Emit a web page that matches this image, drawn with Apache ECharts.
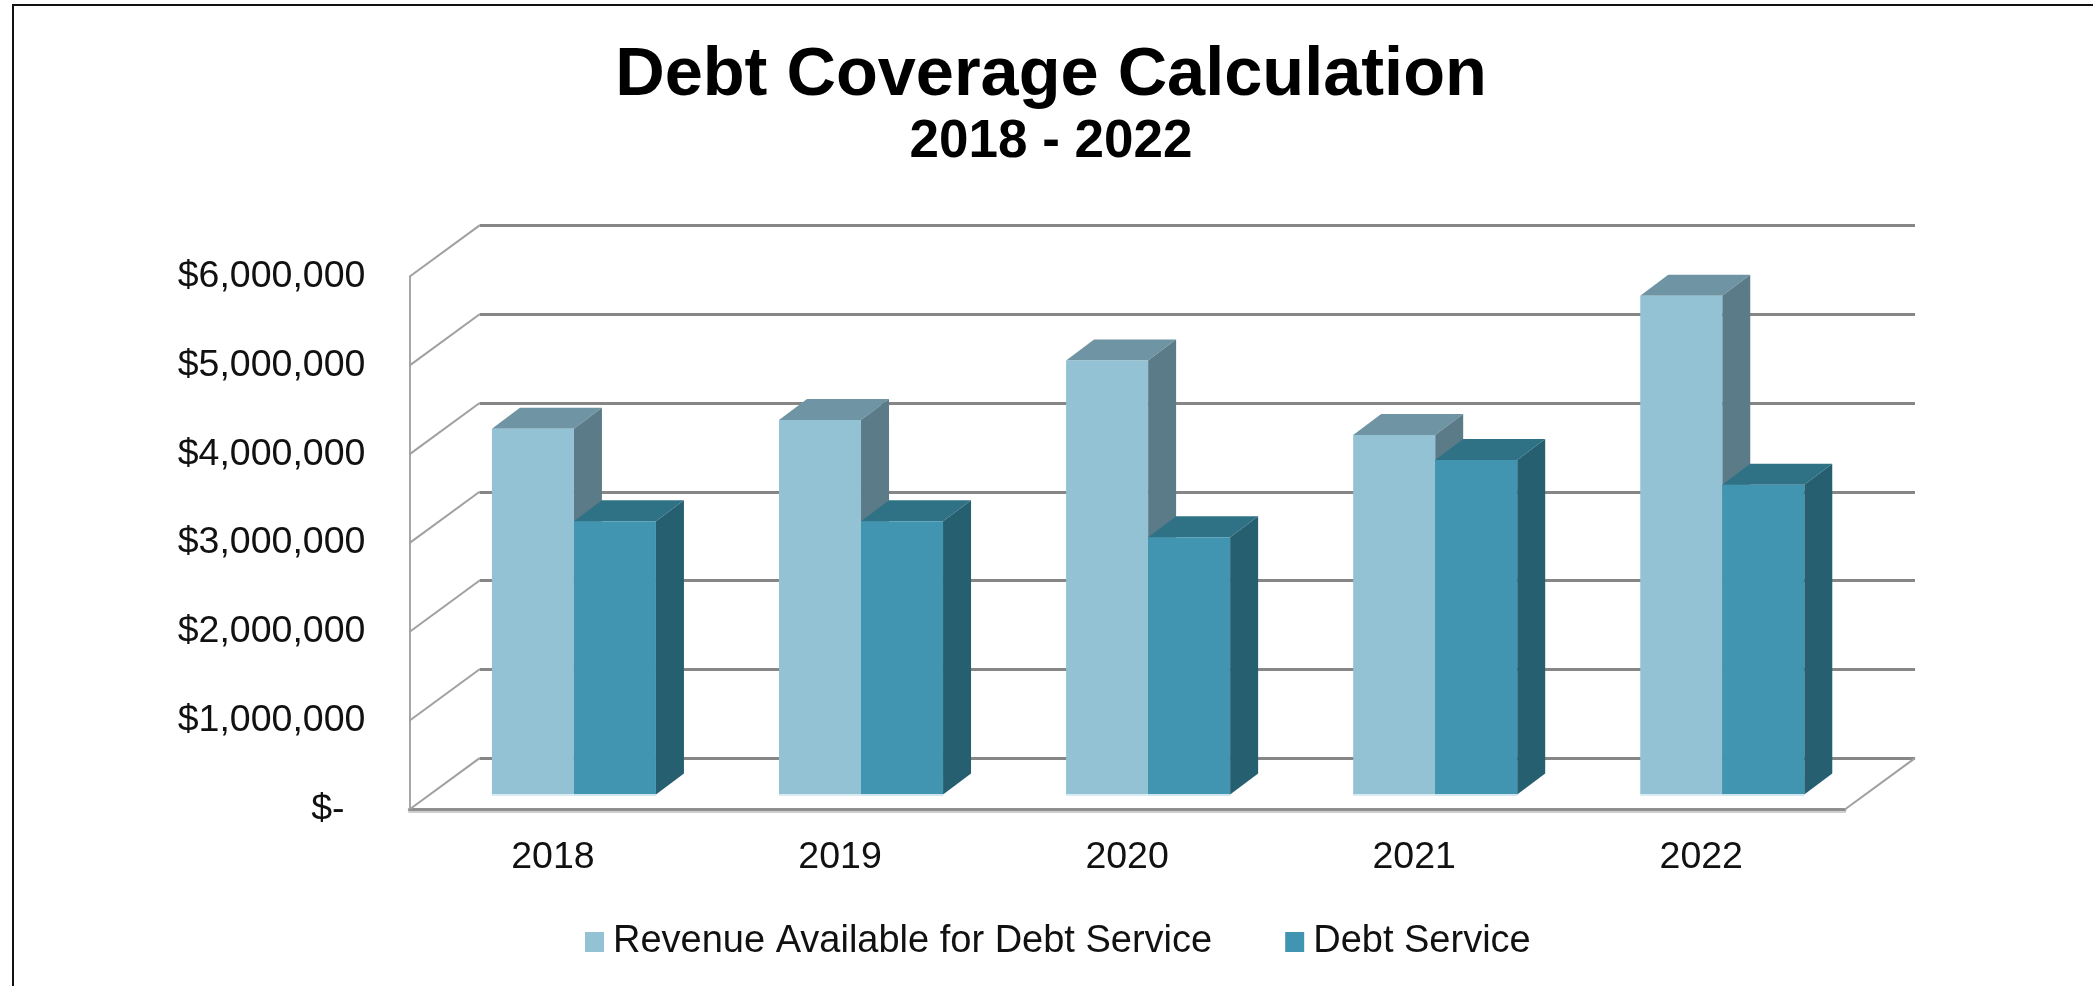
<!DOCTYPE html>
<html><head><meta charset="utf-8">
<script src="https://cdn.jsdelivr.net/npm/echarts@6/dist/echarts.min.js"></script>
<style>html,body{margin:0;padding:0;background:#fff}#c{width:2093px;height:986px}</style>
</head><body><div id="c"></div>
<script>
const categories = ['2018','2019','2020','2021','2022'];
const revenue = [4120000,4220000,4890000,4050000,5620000];
const debtService = [3080000,3080000,2900000,3770000,3490000];
const tickValues = [0,1000000,2000000,3000000,4000000,5000000,6000000];
const tickLabels = ['$-  ','$1,000,000','$2,000,000','$3,000,000','$4,000,000','$5,000,000','$6,000,000'];
const FONT = '"Liberation Sans", Arial, sans-serif';

const W = 1435.4, H = 532.7;
const front = {left:409.4, top:276.8, width:W, height:H};
const bars  = {left:430.4, top:261.9, width:W, height:H};
const back  = {left:479.6, top:225.4, width:W, height:H};
const DEPTH_X = 70.2, DEPTH_Y = 51.4;
const BAR_DX = 28, BAR_DY = 21;

function bar3d(side, cFront, cTop, cSide, cEdge) {
  return function (params, api) {
    const i = api.value(0), v = api.value(1);
    const top = api.coord([i, v]), base = api.coord([i, 0]);
    const w = api.size([1, 0])[0] * 0.2857;
    const x0 = side < 0 ? top[0] - w : top[0], x1 = x0 + w;
    return {type:'group', children:[
      {type:'polygon', shape:{points:[[x0,top[1]],[x1,top[1]],[x1+BAR_DX,top[1]-BAR_DY],[x0+BAR_DX,top[1]-BAR_DY]]}, style:{fill:cTop}},
      {type:'polygon', shape:{points:[[x1,top[1]],[x1+BAR_DX,top[1]-BAR_DY],[x1+BAR_DX,base[1]-BAR_DY],[x1,base[1]]]}, style:{fill:cSide}},
      {type:'rect', shape:{x:x0,y:top[1],width:w,height:base[1]-top[1]}, style:{fill:cFront}},
      {type:'line', shape:{x1:x0,y1:base[1]+0.5,x2:x1,y2:base[1]+0.5}, style:{stroke:cEdge,lineWidth:2}}
    ]};
  };
}

const option = {
  backgroundColor:'#fff',
  animation:false,
  title:[
    {text:'Debt Coverage Calculation', left:1046, top:37, textAlign:'center', textStyle:{fontFamily:FONT,fontSize:68.5,fontWeight:'bold',color:'#000'}},
    {text:'2018 - 2022', left:1046, top:111, textAlign:'center', textStyle:{fontFamily:FONT,fontSize:53,fontWeight:'bold',color:'#000'}}
  ],
  legend:{
    left:580, top:918, itemWidth:19, itemHeight:20, itemGap:73, icon:'rect',
    textStyle:{fontFamily:FONT,fontSize:38,color:'#111',padding:[0,0,0,4]},
    data:['Revenue Available for Debt Service','Debt Service']
  },
  grid:[
    Object.assign({containLabel:false}, front),
    Object.assign({containLabel:false}, bars),
    Object.assign({containLabel:false}, back)
  ],
  xAxis:[
    {type:'category',gridIndex:0,data:categories,axisTick:{show:false},
     axisLine:{show:true,lineStyle:{color:'#8f8f8f',width:3,shadowColor:'#cfcfcf',shadowOffsetY:2}},
     axisLabel:{margin:29,fontFamily:FONT,fontSize:37.5,color:'#111'}},
    {type:'category',gridIndex:1,data:categories,axisTick:{show:false},axisLine:{show:false},axisLabel:{show:false}},
    {type:'category',gridIndex:2,data:categories,axisTick:{show:false},axisLine:{show:false},axisLabel:{show:false}}
  ],
  yAxis:[
    {type:'value',gridIndex:0,min:0,max:6000000,interval:1000000,splitLine:{show:false},axisTick:{show:false},
     axisLine:{show:true,lineStyle:{color:'#a6a6a6',width:2}},
     axisLabel:{margin:44,fontFamily:FONT,fontSize:37.5,color:'#111',padding:[6,0,0,0],
       formatter:v=>tickLabels[tickValues.indexOf(v)]}},
    {type:'value',gridIndex:1,min:0,max:6000000,interval:1000000,splitLine:{show:false},axisTick:{show:false},axisLine:{show:false},axisLabel:{show:false}},
    {type:'value',gridIndex:2,min:0,max:6000000,interval:1000000,axisTick:{show:false},axisLine:{show:false},axisLabel:{show:false},
     splitLine:{show:true,lineStyle:{color:'#868686',width:3}}}
  ],
  series:[
    {type:'custom',name:'wall',xAxisIndex:0,yAxisIndex:0,silent:true,z:1,
     data:tickValues.map(v=>[0,v]),encode:{x:0,y:1},
     renderItem:function(params,api){
       const cs=params.coordSys, y=api.coord([0,api.value(1)])[1], x=cs.x;
       const kids=[{type:'line',shape:{x1:x,y1:y,x2:x+DEPTH_X,y2:y-DEPTH_Y},style:{stroke:'#a0a0a0',lineWidth:2}}];
       if(api.value(1)===0){
         kids.push({type:'line',shape:{x1:x+cs.width,y1:y,x2:x+cs.width+DEPTH_X,y2:y-DEPTH_Y},style:{stroke:'#a0a0a0',lineWidth:2}});
       }
       return {type:'group',children:kids};
     }},
    {type:'custom',name:'Revenue Available for Debt Service',xAxisIndex:1,yAxisIndex:1,z:3,
     itemStyle:{color:'#93C2D4'},data:revenue.map((v,i)=>[i,v]),encode:{x:0,y:1},
     renderItem:bar3d(-1,'#93C2D4','#6F94A4','#5B7B88','#D8ECF3')},
    {type:'custom',name:'Debt Service',xAxisIndex:1,yAxisIndex:1,z:4,
     itemStyle:{color:'#4195B0'},data:debtService.map((v,i)=>[i,v]),encode:{x:0,y:1},
     renderItem:bar3d(1,'#4195B0','#2F7286','#265F70','#CFE6EE')}
  ],
  graphic:[
    {type:'rect',z:0,shape:{x:13,y:5,width:2200,height:1200},style:{fill:'none',stroke:'#111',lineWidth:2}}
  ]
};
const chart = echarts.init(document.getElementById('c'),null,{renderer:'canvas'});
chart.setOption(option);
</script></body></html>
